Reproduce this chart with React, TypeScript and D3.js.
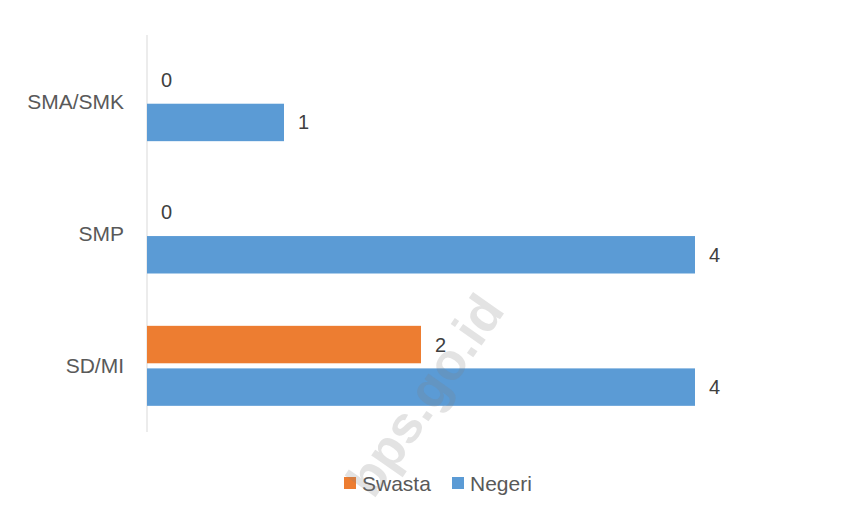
import React from "react";
import * as d3 from "d3";

const categories = ["SMA/SMK", "SMP", "SD/MI"];
const seriesNames = ["Swasta", "Negeri"];
const swastaValues = [0, 0, 2];
const negeriValues = [1, 4, 4];
const seriesColors = ["#ED7D31", "#5B9BD5"];

const W = 854;
const H = 516;

export default function App() {
  const x = d3.scaleLinear().domain([0, 4]).range([147, 695]);
  const y = d3.scaleBand<string>().domain(categories).range([35, 432]).padding(0);
  const inner = d3
    .scaleBand<string>()
    .domain(seriesNames)
    .range([0, 80])
    .paddingInner(0.12);
  const values = [swastaValues, negeriValues];
  const font = "'Liberation Sans', Arial, sans-serif";

  return (
    <svg
      width={W}
      height={H}
      style={{ position: "absolute", left: 0, top: 0, background: "#fff" }}
      fontFamily={font}
    >
      <rect x={0} y={0} width={W} height={H} fill="#fff" />
      <line x1={x(0)} x2={x(0)} y1={35} y2={432} stroke="#d9d9d9" strokeWidth={1} />
      {categories.map((c, ci) => {
        const bandTop = (y(c) as number) + y.bandwidth() / 2 - 40;
        return (
          <g key={c}>
            <text
              x={124}
              y={(y(c) as number) + y.bandwidth() / 2}
              textAnchor="end"
              dominantBaseline="central"
              fontSize={21}
              fill="#595959"
            >
              {c}
            </text>
            {seriesNames.map((s, si) => {
              const v = values[si][ci];
              const by = bandTop + (inner(s) as number);
              const bh = inner.bandwidth();
              return (
                <g key={s}>
                  <rect
                    x={x(0)}
                    y={by}
                    width={x(v) - x(0)}
                    height={bh}
                    fill={seriesColors[si]}
                  />
                  <text
                    x={x(v) + 14}
                    y={by + bh / 2}
                    dominantBaseline="central"
                    fontSize={20}
                    fill="#404040"
                  >
                    {v}
                  </text>
                </g>
              );
            })}
          </g>
        );
      })}
      {seriesNames.map((s, si) => {
        const lx = si === 0 ? 344 : 452;
        return (
          <g key={s}>
            <rect x={lx} y={477} width={12} height={12} fill={seriesColors[si]} />
            <text x={lx + 18} y={483} dominantBaseline="central" fontSize={21} fill="#595959">
              {s}
            </text>
          </g>
        );
      })}
      <text
        x={425}
        y={395}
        textAnchor="middle"
        dominantBaseline="central"
        fontSize={52}
        fontWeight="bold"
        fill="#808080"
        fillOpacity={0.22}
        transform="rotate(-55 425 395)"
      >
        bps.go.id
      </text>
    </svg>
  );
}
